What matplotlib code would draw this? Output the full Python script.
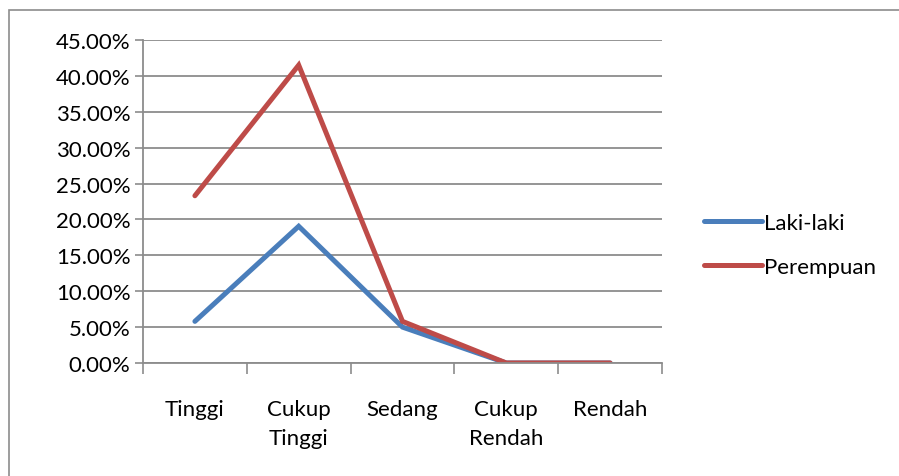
import matplotlib.pyplot as plt
from matplotlib.patches import Rectangle
from matplotlib.ticker import PercentFormatter

categories = ["Tinggi", "Cukup\nTinggi", "Sedang", "Cukup\nRendah", "Rendah"]
laki_laki = [5.8, 19.05, 5.0, 0.0, 0.0]
perempuan = [23.3, 41.5, 5.8, 0.0, 0.0]

plt.rcParams["font.family"] = ["Lato", "DejaVu Sans"]

fig = plt.figure(figsize=(8.99, 4.77), dpi=100)
fig.patches.append(Rectangle((9 / 899, -0.1), 1.2, 1 - 11 / 477 + 0.1, transform=fig.transFigure,
                             fill=False, edgecolor="#8c8c8c", linewidth=1.2))

ax = fig.add_axes([143 / 899, 1 - 364 / 477, (662 - 143) / 899, (364 - 41) / 477])
x = range(len(categories))
ax.plot(x, laki_laki, color="#4a7ebb", linewidth=3.6, solid_capstyle="round", solid_joinstyle="miter", label="Laki-laki")
ax.plot(x, perempuan, color="#be4b48", linewidth=3.6, solid_capstyle="round", solid_joinstyle="miter", label="Perempuan")

ax.set_xlim(-0.5, len(categories) - 0.5)
ax.set_ylim(0, 45)
ax.set_yticks(range(0, 46, 5))
ax.yaxis.set_major_formatter(PercentFormatter(decimals=2))
ax.set_xticks([i - 0.5 for i in range(len(categories) + 1)])
ax.set_xticklabels([])
ax.set_xticks(list(x), minor=True)
ax.set_xticklabels(categories, minor=True, linespacing=1.55)
ax.tick_params(axis="x", which="major", length=8, width=1.2, color="#8c8c8c", direction="out")
ax.tick_params(axis="x", which="minor", length=0, pad=26, labelsize=16)
ax.tick_params(axis="y", length=6, width=1.2, color="#8c8c8c", labelsize=16, pad=3)

ax.grid(axis="y", color="#8c8c8c", linewidth=1.3)
ax.set_axisbelow(True)
for s in ["top", "right"]:
    ax.spines[s].set_visible(False)
for s in ["left", "bottom"]:
    ax.spines[s].set_color("#8c8c8c")
    ax.spines[s].set_linewidth(1.3)

fig.legend(loc="center left", bbox_to_anchor=(684 / 899, 1 - 246 / 477), frameon=False,
           fontsize=16, handlelength=2.6, handletextpad=0.1, labelspacing=1.1)

fig.savefig("out.png", dpi=100)
